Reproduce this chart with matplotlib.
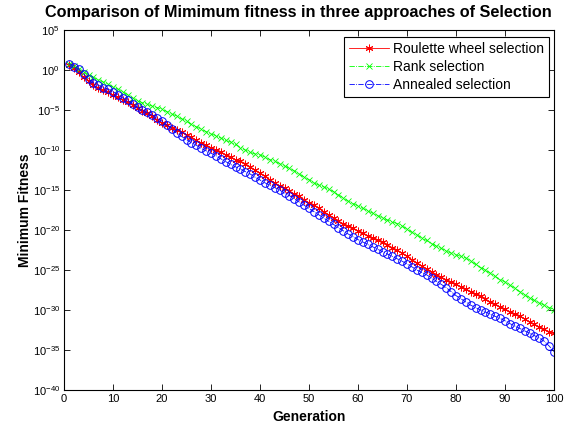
import numpy as np
import matplotlib
matplotlib.use("Agg")
import matplotlib.pyplot as plt
from matplotlib.ticker import FixedLocator, NullLocator

plt.rcParams['font.family'] = ['Liberation Sans', 'DejaVu Sans']
plt.rcParams['mathtext.fontset'] = 'custom'
plt.rcParams['mathtext.rm'] = 'Liberation Sans'
plt.rcParams['mathtext.it'] = 'Liberation Sans:italic'
plt.rcParams['mathtext.bf'] = 'Liberation Sans:bold'

generation = list(range(1, 101))

# log10 of minimum fitness
roulette_exp = [0.6, 0.2, -0.3, -0.9, -1.4, -1.9, -2.2, -2.5, -2.8, -3.1,
                -3.4, -3.7, -4.0, -4.4, -4.8, -5.1, -5.4, -5.8, -6.2, -6.6,
                -6.9, -7.2, -7.5, -7.8, -8.1, -8.4, -8.8, -9.1, -9.4, -9.7,
                -10.0, -10.3, -10.6, -10.9, -11.2, -11.4, -11.7, -12.1, -12.5, -12.9,
                -13.3, -13.7, -14.1, -14.5, -14.8, -15.1, -15.5, -15.8, -16.2, -16.6,
                -16.9, -17.3, -17.7, -18.1, -18.5, -18.9, -19.2, -19.5, -19.8, -20.1,
                -20.4, -20.7, -20.95, -21.25, -21.55, -21.85, -22.2, -22.55, -22.9, -23.3,
                -23.7, -24.1, -24.5, -24.9, -25.2, -25.6, -25.9, -26.2, -26.5, -26.8,
                -27.1, -27.4, -27.7, -28.0, -28.3, -28.6, -29.0, -29.3, -29.6, -29.9,
                -30.2, -30.5, -30.8, -31.1, -31.5, -31.8, -32.1, -32.4, -32.7, -32.9]

rank_exp = [0.8, 0.5, 0.1, -0.2, -0.6, -0.9, -1.25, -1.5, -1.8, -2.1,
            -2.4, -2.7, -3.1, -3.5, -3.85, -4.1, -4.3, -4.5, -4.7, -4.9,
            -5.2, -5.5, -5.75, -6.1, -6.4, -6.8, -7.1, -7.4, -7.7, -8.0,
            -8.2, -8.5, -8.8, -9.0, -9.3, -9.7, -10.0, -10.3, -10.5, -10.6,
            -10.9, -11.2, -11.4, -11.7, -12.0, -12.3, -12.6, -13.0, -13.4, -13.7,
            -14.1, -14.4, -14.6, -14.9, -15.2, -15.6, -16.0, -16.4, -16.7, -17.0,
            -17.3, -17.6, -17.9, -18.2, -18.5, -18.75, -19.0, -19.2, -19.5, -19.9,
            -20.3, -20.6, -21.0, -21.3, -21.7, -22.0, -22.3, -22.6, -22.9, -23.1,
            -23.3, -23.5, -23.9, -24.3, -24.7, -25.0, -25.4, -25.8, -26.2, -26.5,
            -26.9, -27.3, -27.7, -28.1, -28.5, -28.8, -29.1, -29.4, -29.7, -29.95]

annealed_exp = [0.8, 0.4, 0.1, -0.5, -1.1, -1.6, -1.9, -2.2, -2.4, -2.7,
                -3.1, -3.5, -3.8, -4.2, -4.6, -4.95, -5.3, -5.6, -6.0, -6.4,
                -6.9, -7.4, -7.9, -8.3, -8.7, -9.1, -9.4, -9.8, -10.1, -10.4,
                -10.7, -11.1, -11.45, -11.8, -12.1, -12.4, -12.7, -13.0, -13.4, -13.75,
                -14.1, -14.4, -14.7, -15.0, -15.4, -15.7, -16.1, -16.5, -16.9, -17.3,
                -17.7, -18.1, -18.5, -18.9, -19.3, -19.7, -20.1, -20.5, -20.85, -21.2,
                -21.5, -21.8, -22.1, -22.4, -22.7, -23.0, -23.3, -23.6, -23.9, -24.25,
                -24.6, -25.0, -25.3, -25.6, -26.0, -26.4, -26.8, -27.2, -27.7, -28.2,
                -28.6, -29.0, -29.4, -29.7, -30.0, -30.25, -30.5, -30.8, -31.05, -31.35,
                -31.7, -32.0, -32.3, -32.6, -32.9, -33.2, -33.5, -33.9, -34.5, -35.2]

labels = ['Roulette wheel selection', 'Rank selection', 'Annealed selection']
x_ticks = [0, 10, 20, 30, 40, 50, 60, 70, 80, 90, 100]
y_ticks = [1e-40, 1e-35, 1e-30, 1e-25, 1e-20, 1e-15, 1e-10, 1e-5, 1e0, 1e5]

roulette = 10.0 ** np.array(roulette_exp)
rank = 10.0 ** np.array(rank_exp)
annealed = 10.0 ** np.array(annealed_exp)

fig = plt.figure(figsize=(5.77, 4.30), dpi=100)
ax = fig.add_axes([64/577, 40/430, 490/577, 360/430])

ax.plot(generation, roulette, color=(1, 0, 0), linestyle='-', linewidth=0.6,
        marker=(6, 2, 0), markersize=5.5, markeredgewidth=0.7, label=labels[0])
ax.plot(generation, rank, color=(0, 1, 0), linestyle='-.', linewidth=0.6,
        marker='x', markersize=4.5, markeredgewidth=0.6, label=labels[1])
ax.plot(generation, annealed, color=(0, 0, 1), linestyle='-.', linewidth=0.6,
        marker='o', markersize=5.5, markerfacecolor='none', markeredgewidth=0.7,
        label=labels[2])

ax.set_yscale('log')
ax.set_xlim(0, 100)
ax.set_ylim(1e-40, 1e5)
ax.xaxis.set_major_locator(FixedLocator(x_ticks))
ax.yaxis.set_major_locator(FixedLocator(y_ticks))
ax.yaxis.set_minor_locator(NullLocator())
ax.tick_params(which='both', direction='in', top=True, right=True,
               labelsize=8, length=4, width=0.6, pad=3)
for s in ax.spines.values():
    s.set_linewidth(0.8)

ax.set_title('Comparison of Mimimum fitness in three approaches of Selection',
             fontsize=11.7, fontweight='bold', pad=9, x=(298.5 - 64) / 490)
ax.set_xlabel('Generation', fontsize=10, fontweight='bold')
ax.set_ylabel('Minimum Fitness', fontsize=10, fontweight='bold')
ax.xaxis.set_label_coords(0.5, -(417 - 390) / 360, transform=ax.transAxes)
ax.yaxis.set_label_coords((25 - 64) / 490, 0.5, transform=ax.transAxes)
ax.xaxis.label.set_va('center')
ax.yaxis.label.set_va('center')

leg = ax.legend(loc='upper right', fontsize=10, fancybox=False, framealpha=1,
                edgecolor='black', borderpad=0.35, labelspacing=0.3,
                handlelength=2.9, handletextpad=0.3, borderaxespad=0,
                bbox_to_anchor=(549/577, 1 - 37/430), bbox_transform=fig.transFigure)
leg.get_frame().set_linewidth(0.8)

fig.savefig('out.png', dpi=100)
